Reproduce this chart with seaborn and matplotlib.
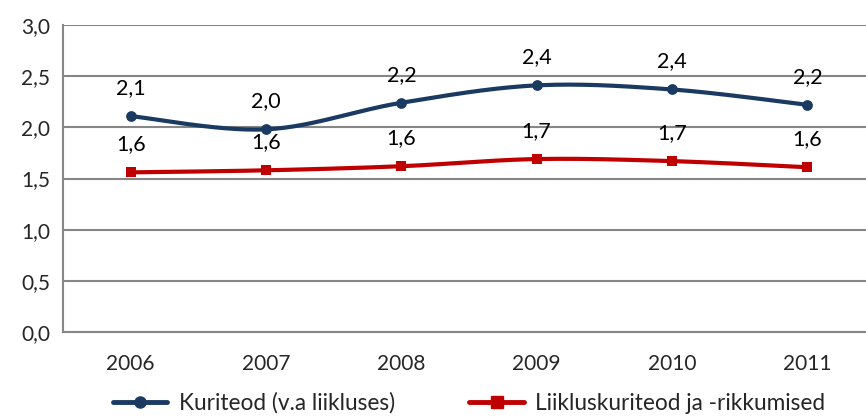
import numpy as np
import pandas as pd
import matplotlib
matplotlib.use("Agg")
import matplotlib.pyplot as plt
import seaborn as sns

years = ["2006", "2007", "2008", "2009", "2010", "2011"]
kuriteod = [2.11, 1.98, 2.24, 2.41, 2.37, 2.22]
liiklus = [1.56, 1.58, 1.62, 1.69, 1.67, 1.61]
kuriteod_labels = ["2,1", "2,0", "2,2", "2,4", "2,4", "2,2"]
liiklus_labels = ["1,6", "1,6", "1,6", "1,7", "1,7", "1,6"]
series_names = ["Kuriteod (v.a liikluses)", "Liikluskuriteod ja -rikkumised"]
yticks = [0.0, 0.5, 1.0, 1.5, 2.0, 2.5, 3.0]

sns.set_style("white")
plt.rcParams["font.family"] = ["Lato", "DejaVu Sans"]

colors = ["#1B3A62", "#C00000"]
markers = ["o", "s"]
FS = 15

df = pd.DataFrame({"year": years * 2,
                   "x": list(range(len(years))) * 2,
                   "value": kuriteod + liiklus,
                   "series": [series_names[0]] * len(years) + [series_names[1]] * len(years)})

fig = plt.figure(figsize=(8.66, 4.17), dpi=100)
ax = fig.add_axes([63 / 866, 1 - 332 / 417, (875 - 63) / 866, (332 - 25) / 417])


def smooth(xs, ys, n=30):
    # Excel-like smoothed line (Catmull-Rom / cubic Bezier)
    xs = np.asarray(xs, float)
    ys = np.asarray(ys, float)
    px, py = [], []
    for i in range(len(xs) - 1):
        x0, y0 = (xs[i - 1], ys[i - 1]) if i > 0 else (xs[i], ys[i])
        x1, y1 = xs[i], ys[i]
        x2, y2 = xs[i + 1], ys[i + 1]
        x3, y3 = (xs[i + 2], ys[i + 2]) if i + 2 < len(xs) else (xs[i + 1], ys[i + 1])
        c1x, c1y = x1 + (x2 - x0) / 6, y1 + (y2 - y0) / 6
        c2x, c2y = x2 - (x3 - x1) / 6, y2 - (y3 - y1) / 6
        t = np.linspace(0, 1, n)
        bx = (1 - t) ** 3 * x1 + 3 * (1 - t) ** 2 * t * c1x + 3 * (1 - t) * t ** 2 * c2x + t ** 3 * x2
        by = (1 - t) ** 3 * y1 + 3 * (1 - t) ** 2 * t * c1y + 3 * (1 - t) * t ** 2 * c2y + t ** 3 * y2
        px.extend(bx)
        py.extend(by)
    return np.array(px), np.array(py)


for name, col, mk, labels in zip(series_names, colors, markers, [kuriteod_labels, liiklus_labels]):
    sub = df[df["series"] == name]
    sx, sy = smooth(sub["x"], sub["value"])
    sns.lineplot(x=sx, y=sy, ax=ax, color=col, lw=3, sort=False, estimator=None, zorder=3)
    sns.scatterplot(x=sub["x"], y=sub["value"], ax=ax, color=col, marker=mk,
                    s=60 if mk == "o" else 55, edgecolor=col, linewidth=0, zorder=4)
    for xv, yv, lab in zip(sub["x"], sub["value"], labels):
        ax.annotate(lab, (xv, yv), xytext=(0, 28), textcoords="offset pixels",
                    ha="center", va="center", fontsize=15.5, color="black")

ax.set_xlim(-0.5, 5.5)
ax.set_ylim(0, 3.0)
ax.set_yticks(yticks)
ax.set_yticklabels([f"{v:.1f}".replace(".", ",") for v in yticks], fontsize=FS)
ax.set_xticks(range(len(years)))
ax.set_xticklabels(years, fontsize=FS)
ax.set_xticks(np.arange(-0.5, 5.6, 1), minor=True)
ax.tick_params(axis="x", which="major", length=0, pad=16)
ax.tick_params(axis="x", which="minor", length=5, width=1.5, color="#868686", direction="out")
ax.tick_params(axis="y", length=6, width=1.5, color="#868686", direction="out", pad=3)
ax.grid(axis="y", color="#868686", lw=1.5, zorder=0)
ax.grid(axis="x", visible=False)
ax.set_axisbelow(True)
for s in ["top", "right"]:
    ax.spines[s].set_visible(False)
for s in ["left", "bottom"]:
    ax.spines[s].set_color("#868686")
    ax.spines[s].set_linewidth(1.5)
ax.set_xlabel("")
ax.set_ylabel("")

from matplotlib.lines import Line2D
handles = [Line2D([], [], color=c, lw=3.5, marker=m, markersize=8) for c, m in zip(colors, markers)]
fig.legend(handles, series_names, loc="center left", bbox_to_anchor=(113 / 866, 1 - 403 / 417),
           ncol=2, frameon=False, fontsize=16.3, handlelength=2.4, columnspacing=3.3,
           handletextpad=0.5, borderpad=0, borderaxespad=0)

fig.savefig("out.png", dpi=100)
